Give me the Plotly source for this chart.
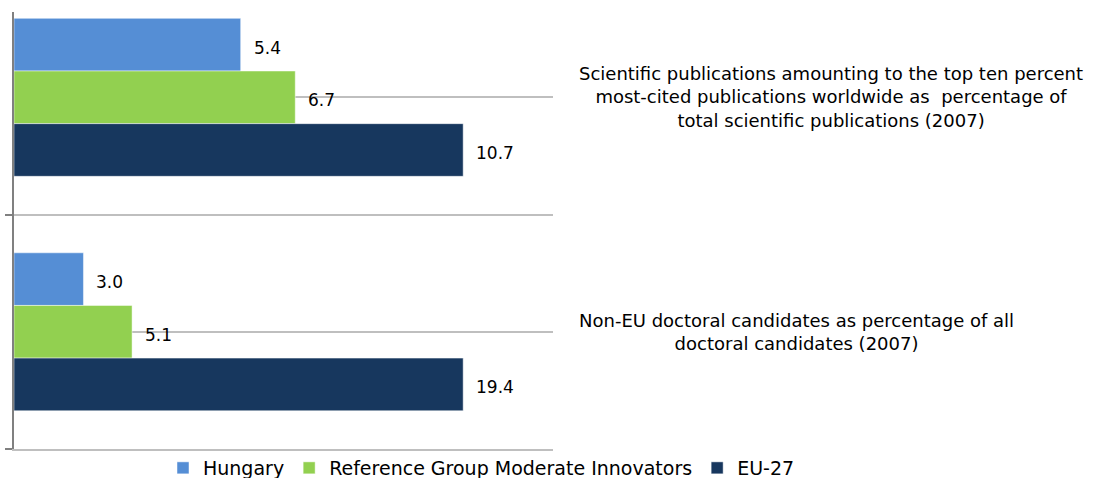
import plotly.graph_objects as go

categories = [
    "Non-EU doctoral candidates as percentage of all<br>doctoral candidates (2007)",
    "Scientific publications amounting to the top ten percent<br>most-cited publications worldwide as  percentage of<br>total scientific publications (2007)",
]
series_names = ["Hungary", "Reference Group Moderate Innovators", "EU-27"]
hungary = [3.0, 5.4]
reference_group = [5.1, 6.7]
eu27 = [19.4, 10.7]

colors = ["#558ED5", "#92D050", "#17375E"]
series_values = [hungary, reference_group, eu27]

# bars are drawn as index relative to EU-27 (=100), labels show actual values
ypos = list(range(len(categories)))
bar_w = 0.2246
offsets = [bar_w / 2, -bar_w / 2, -1.5 * bar_w]

W, H = 1110, 478
ML = 14
PW = W - ML          # paper width
X_END = 553          # right end of bar area in pixels

def px(x):
    return (x - ML) / PW

FONT = "DejaVu Sans"
fig = go.Figure()
for name, vals, col, off in zip(series_names, series_values, colors, offsets):
    idx = [v / e * 100 for v, e in zip(vals, eu27)]
    fig.add_trace(go.Bar(
        x=idx, y=ypos, orientation="h", name=name,
        marker=dict(color=col, line=dict(color="rgba(255,255,255,0.6)", width=0.8)),
        width=bar_w, offset=off, hoverinfo="skip",
    ))
    for i, (v, x) in enumerate(zip(vals, idx)):
        fig.add_annotation(
            x=x, y=ypos[i] + off + bar_w / 2, text=f"{v:.1f}", showarrow=False,
            xanchor="left", yanchor="middle", xshift=11, yshift=-3,
            font=dict(family=FONT, size=17, color="#000000"),
        )

for i, cat in enumerate(categories):
    fig.add_annotation(
        x=px(577), xref="paper", y=ypos[i], yref="y", text=cat,
        showarrow=False, xanchor="left", yanchor="middle", align="center",
        font=dict(family=FONT, size=18, color="#000000"),
    )

fig.update_layout(
    width=W, height=H,
    margin=dict(l=ML, r=0, t=12, b=26),
    barmode="overlay",
    plot_bgcolor="white", paper_bgcolor="white",
    showlegend=True,
    legend=dict(
        orientation="h", xref="paper", yref="container",
        x=px(163), y=1 - 468 / 478, xanchor="left", yanchor="middle",
        font=dict(family=FONT, size=19, color="#000000"),
        bgcolor="rgba(0,0,0,0)",
        traceorder="normal", itemwidth=30,
    ),
    xaxis=dict(
        domain=[0, px(X_END)],
        range=[0, 120], showgrid=False, zeroline=False, showticklabels=False,
        showline=True, linecolor="#BFBFBF", linewidth=1.5, ticks="", automargin=False,
    ),
    yaxis=dict(
        range=[-0.5, 1.364], tickmode="linear", tick0=-0.5, dtick=1,
        showticklabels=False, ticks="outside", ticklen=7, tickcolor="#808080", tickwidth=1.5,
        showgrid=True, gridcolor="#BFBFBF", gridwidth=1.5,
        minor=dict(tick0=0, dtick=0.5, showgrid=True, gridcolor="#BFBFBF", gridwidth=1.5, ticks=""),
        zeroline=False, showline=True, linecolor="#808080", linewidth=2, automargin=False,
    ),
)

fig.write_html("out.html", config={"displayModeBar": False},
               post_script="document.body.style.margin='0';")
